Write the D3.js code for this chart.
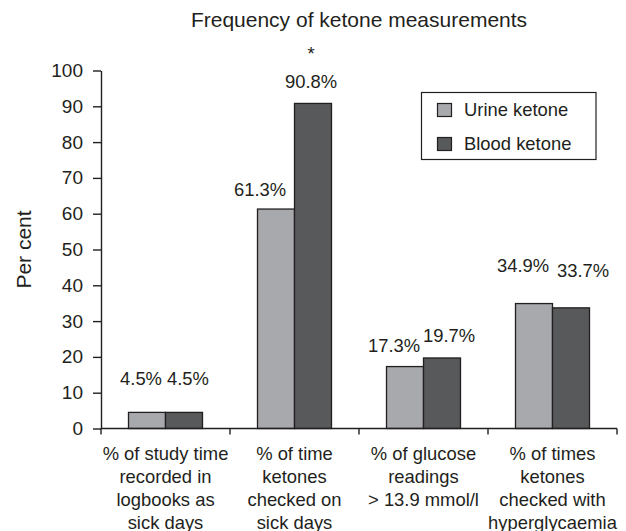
<!DOCTYPE html>
<html>
<head>
<meta charset="utf-8">
<script src="https://cdnjs.cloudflare.com/ajax/libs/d3/7.8.5/d3.min.js"></script>
<style>
	html, body { margin: 0; padding: 0; background: #fff; }
	svg { display: block; font-family: "Liberation Sans", Arial, Helvetica, sans-serif; }
	text { fill: #231f20; }
</style>
</head>
<body>
<svg id="chart" width="626" height="531"></svg>
<script>

	// data
	var categories = [
		[ '% of study time', 'recorded in', 'logbooks as', 'sick days' ],
		[ '% of time', 'ketones', 'checked on', 'sick days' ],
		[ '% of glucose', 'readings', '> 13.9 mmol/l' ],
		[ '% of times', 'ketones', 'checked with', 'hyperglycaemia' ]
	];
	var seriesNames = [ 'Urine ketone', 'Blood ketone' ];
	var urineValues = [ 4.5, 61.3, 17.3, 34.9 ];
	var bloodValues = [ 4.5, 90.8, 19.7, 33.7 ];
	var significance = [ '', '*', '', '' ];
	var yTicks = [ 0, 10, 20, 30, 40, 50, 60, 70, 80, 90, 100 ];

	// label nudges [dx, dy] from the top centre of each bar, urine then blood
	var labelNudge = [
		[ [ -6, -27 ], [ 4, -27 ] ],
		[ [ -16, -13 ], [ -2, -15 ] ],
		[ [ -11, -15 ], [ 7, -16 ] ],
		[ [ -11, -32 ], [ 12, -31 ] ]
	];

	var colors = [ '#a7a9ac', '#58595b' ],
		ink = '#231f20',
		fontSize = 18.4;

	var svg = d3.select( '#chart' ),
		plotLeft = 101,
		plotRight = 617,
		plotTop = 70.5,
		plotBottom = 428.5,
		barWidth = 37;

	var x = d3.scaleBand()
		.domain( d3.range( categories.length ) )
		.range( [ plotLeft, plotRight ] )
		.padding( 0 );

	var y = d3.scaleLinear()
		.domain( [ 0, 100 ] )
		.range( [ plotBottom, plotTop ] );

	var xSeries = d3.scaleBand()
		.domain( d3.range( seriesNames.length ) )
		.range( [ -barWidth, barWidth ] )
		.padding( 0 );

	var rows = categories.map( function( c, i ) {
		return { i: i, values: [ urineValues[ i ], bloodValues[ i ] ] };
	} );

	// title
	svg.append( 'text' )
		.attr( 'x', ( plotLeft + plotRight ) / 2 )
		.attr( 'y', 27 )
		.attr( 'text-anchor', 'middle' )
		.style( 'font-size', '21px' )
		.text( 'Frequency of ketone measurements' );

	// y axis label
	svg.append( 'text' )
		.attr( 'transform', 'translate(31,' + ( ( plotTop + plotBottom ) / 2 ) + ') rotate(-90)' )
		.attr( 'text-anchor', 'middle' )
		.style( 'font-size', '21px' )
		.text( 'Per cent' );

	// bars
	var groups = svg.selectAll( 'g.group' )
		.data( rows )
		.enter().append( 'g' )
		.attr( 'class', 'group' )
		.attr( 'transform', function( d ) {
			return 'translate(' + ( x( d.i ) + x.bandwidth() / 2 ) + ',0)';
		} );

	groups.selectAll( 'rect' )
		.data( function( d ) {
			return d.values.map( function( v, s ) { return { s: s, v: v, i: d.i }; } );
		} )
		.enter().append( 'rect' )
		.attr( 'x', function( d ) { return xSeries( d.s ); } )
		.attr( 'y', function( d ) { return y( d.v ); } )
		.attr( 'width', xSeries.bandwidth() )
		.attr( 'height', function( d ) { return y( 0 ) - y( d.v ); } )
		.attr( 'fill', function( d ) { return colors[ d.s ]; } )
		.attr( 'stroke', ink )
		.attr( 'stroke-width', 1.3 );

	groups.selectAll( 'text.value' )
		.data( function( d ) {
			return d.values.map( function( v, s ) { return { s: s, v: v, i: d.i }; } );
		} )
		.enter().append( 'text' )
		.attr( 'class', 'value' )
		.attr( 'text-anchor', 'middle' )
		.attr( 'x', function( d ) {
			return xSeries( d.s ) + xSeries.bandwidth() / 2 + labelNudge[ d.i ][ d.s ][ 0 ];
		} )
		.attr( 'y', function( d ) { return y( d.v ) + labelNudge[ d.i ][ d.s ][ 1 ]; } )
		.style( 'font-size', fontSize + 'px' )
		.text( function( d ) { return d.v.toFixed( 1 ) + '%'; } );

	// significance marker above the highest label of the group
	groups.filter( function( d ) { return significance[ d.i ]; } )
		.append( 'text' )
		.attr( 'text-anchor', 'middle' )
		.attr( 'x', function( d ) {
			return xSeries( 1 ) + xSeries.bandwidth() / 2 + labelNudge[ d.i ][ 1 ][ 0 ];
		} )
		.attr( 'y', function( d ) { return y( d3.max( d.values ) ) + labelNudge[ d.i ][ 1 ][ 1 ] - 28; } )
		.style( 'font-size', fontSize + 'px' )
		.text( function( d ) { return significance[ d.i ]; } );

	// y axis
	var yAxis = svg.append( 'g' )
		.attr( 'transform', 'translate(' + plotLeft + ',0)' )
		.call( d3.axisLeft( y ).tickValues( yTicks ).tickSize( 8 ).tickPadding( 10 ).tickSizeOuter( 0 ) );

	yAxis.selectAll( 'text' )
		.style( 'font-size', '19px' )
		.style( 'font-family', 'inherit' )
		.attr( 'fill', ink );

	// x axis with ticks on the category boundaries
	var xAxis = svg.append( 'g' )
		.attr( 'transform', 'translate(0,' + plotBottom + ')' );

	xAxis.append( 'line' )
		.attr( 'x1', plotLeft )
		.attr( 'x2', plotRight )
		.attr( 'stroke', ink );

	xAxis.selectAll( 'line.tick' )
		.data( d3.range( categories.length + 1 ) )
		.enter().append( 'line' )
		.attr( 'class', 'tick' )
		.attr( 'x1', function( i ) { return i < categories.length ? x( i ) : plotRight; } )
		.attr( 'x2', function( i ) { return i < categories.length ? x( i ) : plotRight; } )
		.attr( 'y1', 0 )
		.attr( 'y2', 6 )
		.attr( 'stroke', ink );

	var catLabels = xAxis.selectAll( 'text.cat' )
		.data( rows )
		.enter().append( 'text' )
		.attr( 'class', 'cat' )
		.attr( 'text-anchor', 'middle' )
		.attr( 'x', function( d ) { return x( d.i ) + x.bandwidth() / 2; } )
		.attr( 'y', 31 )
		.style( 'font-size', fontSize + 'px' );

	catLabels.selectAll( 'tspan' )
		.data( function( d ) { return categories[ d.i ]; } )
		.enter().append( 'tspan' )
		.attr( 'x', function() { return d3.select( this.parentNode ).attr( 'x' ); } )
		.attr( 'dy', function( t, j ) { return j === 0 ? 0 : 23; } )
		.text( function( t ) { return t; } );

	svg.selectAll( '.domain, .tick line' )
		.attr( 'stroke', ink )
		.attr( 'stroke-width', 1.4 );
	xAxis.selectAll( 'line' ).attr( 'stroke-width', 1.4 );

	// legend
	var legend = svg.append( 'g' )
		.attr( 'transform', 'translate(421.5,92.5)' );

	legend.append( 'rect' )
		.attr( 'width', 174.5 )
		.attr( 'height', 67 )
		.attr( 'fill', '#fff' )
		.attr( 'stroke', ink )
		.attr( 'stroke-width', 1.2 );

	var items = legend.selectAll( 'g.item' )
		.data( seriesNames )
		.enter().append( 'g' )
		.attr( 'class', 'item' )
		.attr( 'transform', function( d, i ) { return 'translate(0,' + ( i * 34 ) + ')'; } );

	items.append( 'rect' )
		.attr( 'x', 16 )
		.attr( 'y', 11 )
		.attr( 'width', 14 )
		.attr( 'height', 13 )
		.attr( 'fill', function( d, i ) { return colors[ i ]; } )
		.attr( 'stroke', ink )
		.attr( 'stroke-width', 1.2 );

	items.append( 'text' )
		.attr( 'x', 42.5 )
		.attr( 'y', 23.5 )
		.style( 'font-size', fontSize + 'px' )
		.text( function( d ) { return d; } );

</script>
</body>
</html>
